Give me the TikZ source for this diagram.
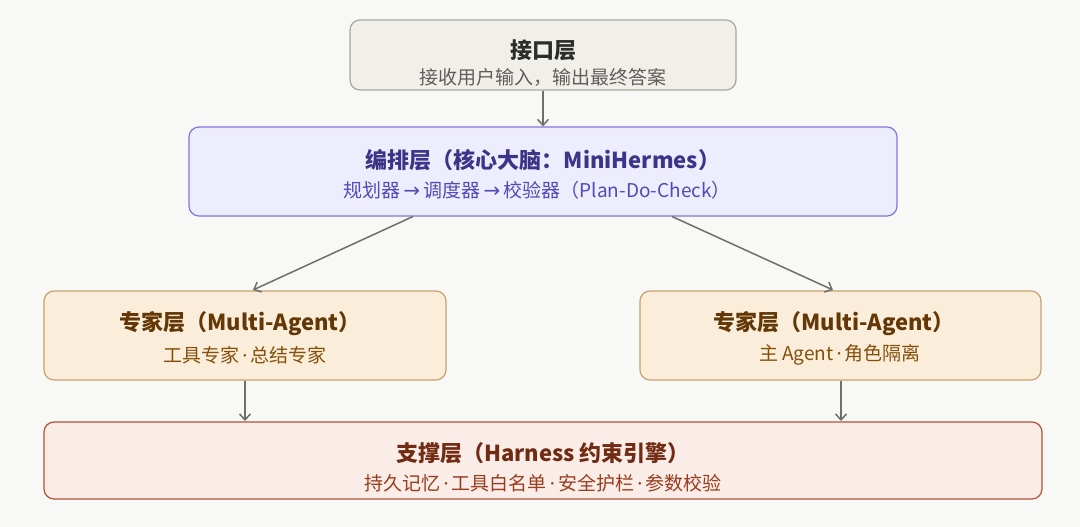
\documentclass[tikz,border=0pt]{standalone}
\usepackage{fontspec}
\setmainfont{Noto Sans CJK SC}
\newfontfamily\latf{Noto Sans}
\newfontfamily\symf{DejaVu Sans}
\newcommand{\md}{{\latf\,·\,}}
\newcommand{\ra}{{\,\symf\fontsize{20}{22}\selectfont →\,}}
\usetikzlibrary{arrows.meta}
\definecolor{bg}{HTML}{F8F8F6}
\definecolor{ifill}{HTML}{F0EFEA}\definecolor{idraw}{HTML}{A9A8A0}\definecolor{itext}{HTML}{2C2C2A}\definecolor{isub}{HTML}{5F5E5A}
\definecolor{ofill}{HTML}{EEEDFE}\definecolor{odraw}{HTML}{7F77DD}\definecolor{otext}{HTML}{3C3489}\definecolor{osub}{HTML}{534AB7}
\definecolor{efill}{HTML}{FAEEDA}\definecolor{edraw}{HTML}{C9A070}\definecolor{etext}{HTML}{633806}\definecolor{esub}{HTML}{854F0B}
\definecolor{sfill}{HTML}{FAECE7}\definecolor{sdraw}{HTML}{B5523A}\definecolor{stext}{HTML}{712B13}\definecolor{ssub}{HTML}{993C1D}
\definecolor{arr}{HTML}{6E6E6A}
\tikzset{
  layer/.style={rounded corners=10pt, line width=1.2pt, inner sep=0pt},
  ttl/.style={font=\fontsize{22}{26}\selectfont\bfseries, inner sep=0pt, anchor=center},
  sub/.style={font=\fontsize{19}{22}\selectfont, inner sep=0pt, anchor=center},
  conn/.style={draw=arr, line width=1.5pt, -{Straight Barb[length=6pt,width=11pt,line width=1.5pt]}}
}
\begin{document}
\begin{tikzpicture}[x=1pt,y=-1pt]
\fill[bg] (0,0) rectangle (1080,527);
\useasboundingbox (0,0) rectangle (1080,527);
% boxes
\node[layer, draw=idraw, fill=ifill, minimum width=386pt, minimum height=70pt] (iface) at (543,55) {};
\node[layer, draw=odraw, fill=ofill, minimum width=708pt, minimum height=89pt] (orch) at (543,171.5) {};
\node[layer, draw=edraw, fill=efill, minimum width=402pt, minimum height=89pt] (expL) at (245,335.5) {};
\node[layer, draw=edraw, fill=efill, minimum width=401pt, minimum height=89pt] (expR) at (840.5,335.5) {};
\node[layer, draw=sdraw, fill=sfill, minimum width=998pt, minimum height=77pt] (supp) at (543,460.5) {};
% texts
\node[ttl, text=itext] (ifaceT) at (543,50) {接口层};
\node[sub, text=isub] (ifaceS) at (543,77) {接收用户输入，输出最终答案};
\node[ttl, text=otext] (orchT) at (543,160) {编排层（核心大脑：MiniHermes）};
\node[sub, text=osub] (orchS) at (537,190) {规划器\ra 调度器\ra 校验器（Plan-Do-Check）};
\node[ttl, text=etext] (expLT) at (240,324) {专家层（Multi-Agent）};
\node[sub, text=esub] (expLS) at (245,355) {工具专家\md 总结专家};
\node[ttl, text=etext] (expRT) at (834,324) {专家层（Multi-Agent）};
\node[sub, text=esub] (expRS) at (840,355) {主 Agent\md 角色隔离};
\node[ttl, text=stext] (suppT) at (543,453) {支撑层（Harness 约束引擎）};
\node[sub, text=ssub] (suppS) at (543,483) {持久记忆\md 工具白名单\md 安全护栏\md 参数校验};
% connectors
\coordinate (oL) at (413,216.5);
\coordinate (oR) at (672,216.5);
\coordinate (eLin) at (253,290);
\coordinate (eRin) at (833,290);
\coordinate (sL) at (245,421);
\coordinate (sR) at (841,421);
\draw[conn] (iface.south) -- (orch.north);
\draw[conn] (oL) -- (eLin);
\draw[conn] (oR) -- (eRin);
\draw[conn] (expL.south -| sL) -- (sL);
\draw[conn] (expR.south -| sR) -- (sR);
\end{tikzpicture}
\end{document}
